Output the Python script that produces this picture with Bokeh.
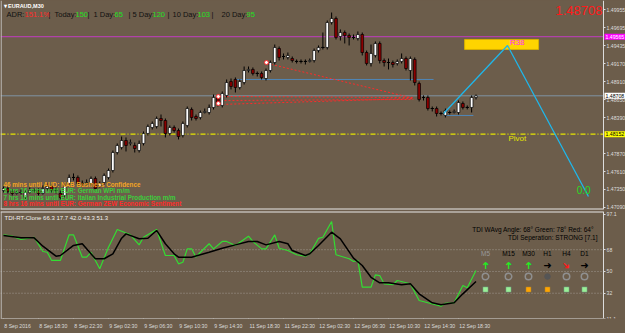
import math
from bokeh.plotting import figure
from bokeh.layouts import column
from bokeh.models import (Range1d, FixedTicker, Span, Label, ColumnDataSource,
                          PrintfTickFormatter, LinearAxis)
from bokeh.core.properties import value
from bokeh.embed import file_html
from bokeh.resources import INLINE

# ---------------- data ----------------
symbol = "EURAUD,M30"
last_price = 1.48708
r38_level = 1.49565
pivot_level = 1.48152

time_ticks = [0, 8, 16, 24, 32, 40, 48, 56, 64, 72, 80, 88, 96, 104]
time_labels = ["8 Sep 2016", "8 Sep 18:30", "8 Sep 22:30", "9 Sep 02:30", "9 Sep 06:30",
               "9 Sep 10:30", "9 Sep 14:30", "11 Sep 18:30", "11 Sep 22:30", "12 Sep 02:30",
               "12 Sep 06:30", "12 Sep 10:30", "12 Sep 14:30", "12 Sep 18:30"]
price_ticks = [1.49955, 1.49695, 1.49435, 1.49170, 1.48910, 1.48650, 1.48390,
               1.47870, 1.47610, 1.47350, 1.47090]

opens = [1.47335, 1.47364, 1.47321, 1.47292, 1.47306, 1.47234, 1.47306, 1.47335, 1.47335, 1.47292,
         1.47364, 1.47393, 1.47335, 1.47292, 1.47263, 1.47437, 1.47524, 1.47524, 1.47437, 1.47437,
         1.47437, 1.47509, 1.47393, 1.47451, 1.47524, 1.47625, 1.47886, 1.47959, 1.48060, 1.48017,
         1.47988, 1.47915, 1.48017, 1.48162, 1.48249, 1.48263, 1.48379, 1.48350, 1.48162, 1.48249,
         1.48205, 1.48133, 1.48278, 1.48510, 1.48408, 1.48394, 1.48466, 1.48466, 1.48539, 1.48684,
         1.48568, 1.48713, 1.48916, 1.48945, 1.48829, 1.48901, 1.49075, 1.49090, 1.49032, 1.49032,
         1.48959, 1.49075, 1.49191, 1.49394, 1.49278, 1.49264, 1.49249, 1.49206, 1.49206, 1.49206,
         1.49206, 1.49220, 1.49365, 1.49409, 1.49409, 1.49771, 1.49829, 1.49568, 1.49626, 1.49583,
         1.49554, 1.49539, 1.49597, 1.49336, 1.49177, 1.49293, 1.49467, 1.49220, 1.49191, 1.49191,
         1.49177, 1.49206, 1.49249, 1.49075, 1.49235, 1.48887, 1.48684, 1.48684, 1.48524, 1.48524,
         1.48452, 1.48423, 1.48466, 1.48466, 1.48466, 1.48597, 1.48539, 1.48539, 1.48684]
highs = [1.47393, 1.47393, 1.47350, 1.47335, 1.47350, 1.47335, 1.47379, 1.47364, 1.47364, 1.47408,
         1.47437, 1.47422, 1.47379, 1.47335, 1.47437, 1.47567, 1.47582, 1.47553, 1.47480, 1.47495,
         1.47538, 1.47538, 1.47466, 1.47582, 1.47654, 1.47915, 1.48017, 1.48118, 1.48104, 1.48075,
         1.48031, 1.48060, 1.48191, 1.48292, 1.48336, 1.48408, 1.48437, 1.48379, 1.48278, 1.48278,
         1.48234, 1.48336, 1.48553, 1.48539, 1.48437, 1.48495, 1.48524, 1.48582, 1.48727, 1.48713,
         1.48771, 1.48945, 1.48959, 1.48974, 1.48945, 1.49133, 1.49133, 1.49119, 1.49061, 1.49061,
         1.49104, 1.49220, 1.49452, 1.49423, 1.49322, 1.49336, 1.49278, 1.49235, 1.49235, 1.49235,
         1.49249, 1.49394, 1.49438, 1.49626, 1.49800, 1.49916, 1.49858, 1.49670, 1.49655, 1.49612,
         1.49597, 1.49641, 1.49626, 1.49365, 1.49452, 1.49496, 1.49496, 1.49249, 1.49249, 1.49220,
         1.49235, 1.49322, 1.49278, 1.49278, 1.49264, 1.48916, 1.48713, 1.48713, 1.48553, 1.48553,
         1.48481, 1.48524, 1.48495, 1.48510, 1.48640, 1.48626, 1.48568, 1.48713, 1.48727]
lows = [1.47306, 1.47292, 1.47263, 1.47277, 1.47277, 1.47205, 1.47292, 1.47306, 1.47263, 1.47277,
        1.47335, 1.47306, 1.47292, 1.47205, 1.47234, 1.47408, 1.47480, 1.47408, 1.47393, 1.47408,
        1.47408, 1.47335, 1.47379, 1.47422, 1.47495, 1.47596, 1.47857, 1.47930, 1.47901, 1.47988,
        1.47886, 1.47886, 1.47988, 1.48133, 1.48220, 1.48234, 1.48263, 1.48104, 1.48133, 1.48176,
        1.48075, 1.48104, 1.48249, 1.48350, 1.48350, 1.48365, 1.48452, 1.48437, 1.48510, 1.48553,
        1.48539, 1.48684, 1.48800, 1.48756, 1.48800, 1.48872, 1.49046, 1.49003, 1.48988, 1.48945,
        1.48930, 1.49046, 1.49162, 1.49220, 1.49235, 1.49235, 1.49191, 1.49177, 1.49177, 1.49162,
        1.49191, 1.49191, 1.49336, 1.49380, 1.49380, 1.49742, 1.49525, 1.49510, 1.49467, 1.49438,
        1.49525, 1.49510, 1.49293, 1.49148, 1.49133, 1.49264, 1.49177, 1.49133, 1.49090, 1.49119,
        1.49148, 1.49177, 1.49075, 1.48930, 1.48858, 1.48626, 1.48640, 1.48495, 1.48481, 1.48408,
        1.48423, 1.48394, 1.48437, 1.48452, 1.48437, 1.48510, 1.48510, 1.48466, 1.48655]
closes = [1.47364, 1.47321, 1.47292, 1.47306, 1.47306, 1.47306, 1.47335, 1.47335, 1.47292, 1.47364,
          1.47393, 1.47335, 1.47335, 1.47234, 1.47408, 1.47524, 1.47524, 1.47437, 1.47437, 1.47451,
          1.47509, 1.47364, 1.47437, 1.47553, 1.47625, 1.47886, 1.47988, 1.48060, 1.47988, 1.48031,
          1.47944, 1.48017, 1.48162, 1.48263, 1.48307, 1.48379, 1.48350, 1.48162, 1.48249, 1.48205,
          1.48118, 1.48307, 1.48524, 1.48394, 1.48379, 1.48466, 1.48481, 1.48539, 1.48684, 1.48597,
          1.48742, 1.48901, 1.48843, 1.48829, 1.48916, 1.49075, 1.49090, 1.49032, 1.49032, 1.48974,
          1.49075, 1.49191, 1.49409, 1.49264, 1.49278, 1.49293, 1.49220, 1.49206, 1.49206, 1.49206,
          1.49220, 1.49365, 1.49409, 1.49409, 1.49771, 1.49829, 1.49554, 1.49626, 1.49583, 1.49554,
          1.49554, 1.49597, 1.49336, 1.49177, 1.49322, 1.49467, 1.49220, 1.49191, 1.49191, 1.49162,
          1.49206, 1.49249, 1.49104, 1.49249, 1.48901, 1.48655, 1.48684, 1.48524, 1.48524, 1.48452,
          1.48452, 1.48495, 1.48466, 1.48481, 1.48611, 1.48539, 1.48539, 1.48684, 1.48708]

# TDI indicator (fast green / slow black), vertices read at bar positions
tdi_green_bars = [0, 2, 4, 7, 9, 10, 11, 13, 15, 16, 18, 19, 20, 22, 24, 26, 29, 31, 32, 35,
                  37, 39, 40, 41, 42, 43, 44, 45, 47, 48, 50, 51, 53, 56, 57, 59, 60, 62, 63, 65,
                  67, 69, 70, 72, 73, 75, 76, 79, 80, 81, 82, 84, 85, 86, 87, 89, 90, 93, 95, 97,
                  100, 101, 103, 105, 106, 108]
tdi_green = [80.3, 79.2, 76.4, 78.3, 66.5, 65.9, 59.1, 59.1, 80.3, 80.3, 61.8, 61.8, 65.9, 52.2, 70.1,
             84.7, 80.3, 72.0, 78.3, 84.7, 63.2, 63.2, 56.3, 57.6, 68.7, 68.7, 61.8, 65.9, 72.9, 68.7,
             74.8, 74.8, 71.5, 79.2, 74.8, 68.7, 68.7, 80.3, 69.2, 67.3, 63.8, 62.6, 64.6, 77.3, 78.3,
             91.3, 63.8, 60.5, 58.2, 59.1, 37.0, 37.0, 47.2, 46.6, 39.8, 39.0, 42.5, 39.8, 26.0, 24.1,
             21.3, 23.7, 24.1, 38.4, 36.5, 50.8]
tdi_black_bars = [0, 4, 7, 9, 12, 13, 16, 18, 19, 21, 23, 25, 27, 28, 31, 33, 35, 37, 39, 40,
                  43, 47, 50, 53, 56, 58, 60, 63, 65, 66, 69, 70, 72, 75, 77, 80, 82, 84, 86, 88,
                  91, 93, 95, 98, 100, 103, 105, 108]
tdi_black = [79.7, 77.8, 77.8, 70.9, 62.6, 63.2, 71.5, 72.9, 68.7, 60.5, 60.5, 64.6, 77.5, 81.1, 77.0,
             77.5, 83.9, 72.9, 64.6, 61.8, 61.8, 65.9, 69.2, 72.0, 74.8, 74.8, 72.0, 74.8, 72.9, 67.3,
             63.2, 64.6, 71.5, 82.5, 77.0, 61.0, 54.9, 45.2, 40.6, 40.6, 39.0, 39.8, 31.5, 24.1, 22.4,
             24.1, 31.5, 41.7]
tdi_levels = [68, 50, 32]
tdi_ticks = [97.1, 68, 50, 32, 11.1]
tdi_values = [66.3, 17.7, 42.0, 43.3, 51.3]

# drawing objects
zigzag_bars = [100.6, 115.2, 133.7]
zigzag_prices = [1.48452, 1.49438, 1.47248]
r38_box = dict(left=105.4, right=122.3, bottom=1.49380, top=1.49525)
trend_x0 = [50.1, 49.6, 49.1, 60.3]
trend_y0 = [1.48698, 1.48640, 1.48582, 1.49177]
trend_x1 = [93.7, 93.7, 93.7, 93.0]
trend_y1 = [1.48684, 1.48655, 1.48669, 1.48684]
fractal_bars = [49.1, 49.1, 60.1]
fractal_prices = [1.48698, 1.48597, 1.49191]
level_a = dict(price=1.48945, x0=53.0, x1=98.3)
level_b = dict(price=1.48423, x0=100.6, x1=107.4)

adr_pct = "151.1%"
adr_names = ["Today:", "1 Day:", "5 Day:", "10 Day:", "20 Day:"]
adr_vals = [150, 65, 120, 103, 95]

news = ["46 mins until AUD: NAB Business Confidence",
        "5 hrs 16 mins until EUR: German WPI m/m",
        "7 hrs 16 mins until EUR: Italian Industrial Production m/m",
        "8 hrs 16 mins until EUR: German ZEW Economic Sentiment"]
news_colors = ["#f5a623", "#3ccf3c", "#3ccf3c", "#ff2a2a"]

tf_names = ["M5", "M15", "M30", "H1", "H4", "D1"]
tf_arrow = ["up", "up", "up", "right", "downright", "right"]
tf_dot = ["open", "open", "open", "filled", "open", "open"]
tf_box = ["#98f098", "#98f098", "#ffa500", "#ffa500", "#98f098", "#98f098"]

# ---------------- style / layout ----------------
BG = "#6c5d4b"
FONT = "Liberation Sans"
AX = "#dcdcdc"
W = 625
PX_PER_BAR = 4.375
BAR0_PX = 3.0
AXIS_PX = 603
P1_H = 209
P2_TOP, P2_BOT = 211, 318
Y1_TOP, Y1_BOT = 1.50090, 1.470595
Y2_TOP, Y2_BOT = 99.58, 11.1
AXIS_FONT = 5.2
TIME_FONT = 5.2
CHAR_EM = {" ": 0.278, ":": 0.278, "S": 0.667}


def px_x(px):
    return (px - BAR0_PX) / PX_PER_BAR


def p2_y(py):
    return Y2_TOP - (py - P2_TOP) * (Y2_TOP - Y2_BOT) / (P2_BOT - P2_TOP)


def text_w(s, size):
    return sum(CHAR_EM.get(ch, 0.556) for ch in s) * size


X_START, X_END = px_x(0), px_x(W)
X_AXIS = px_x(AXIS_PX)

p1 = figure(frame_width=W, frame_height=P1_H, x_range=Range1d(X_START, X_END),
            y_range=Range1d(Y1_BOT, Y1_TOP), x_axis_location=None, y_axis_location=None,
            toolbar_location=None, output_backend="svg",
            min_border_left=0, min_border_right=0, min_border_top=0, min_border_bottom=1)
p2 = figure(frame_width=W, frame_height=P2_BOT - P2_TOP, x_range=Range1d(X_START, X_END),
            y_range=Range1d(Y2_BOT, Y2_TOP), x_axis_location=None, y_axis_location=None,
            toolbar_location=None, output_backend="svg",
            min_border_left=0, min_border_right=0, min_border_top=1, min_border_bottom=15)

for p, ticks in ((p1, price_ticks), (p2, tdi_ticks)):
    p.background_fill_color = BG
    p.border_fill_color = BG
    p.outline_line_color = None
    p.grid.visible = False
    ax = LinearAxis(fixed_location=X_AXIS, ticker=FixedTicker(ticks=ticks))
    ax.axis_line_color = AX
    ax.major_tick_line_color = AX
    ax.minor_tick_line_color = None
    ax.major_tick_in = 0
    ax.major_tick_out = 2
    ax.major_label_standoff = 1
    ax.major_label_text_font = FONT
    ax.major_label_text_font_size = "%.1fpx" % AXIS_FONT
    ax.major_label_text_color = AX
    p.add_layout(ax, "right")
    if p is p1:
        ax.formatter = PrintfTickFormatter(format="%.5f")
    else:
        ax.major_label_overrides = {t: ("%g" % t) for t in tdi_ticks}
    p.add_layout(Span(location=px_x(0.6), dimension="height", line_color="#cfcfcf",
                      line_width=1))

# time axis: tick marks at the bar positions, labels starting at each tick
label_pos = [round(t + (text_w(l, TIME_FONT) / 2 + 0.8) / PX_PER_BAR, 4)
             for t, l in zip(time_ticks, time_labels)]
xa = LinearAxis(ticker=FixedTicker(ticks=label_pos))
xa.major_label_overrides = {pos: l for pos, l in zip(label_pos, time_labels)}
xa.axis_line_color = None
xa.major_tick_line_color = None
xa.minor_tick_line_color = None
xa.major_tick_in = 0
xa.major_tick_out = 0
xa.major_label_standoff = 4
xa.major_label_text_font = FONT
xa.major_label_text_font_size = "%.1fpx" % TIME_FONT
xa.major_label_text_color = AX
p2.add_layout(xa, "below")

xt = LinearAxis(fixed_location=Y2_BOT, ticker=FixedTicker(ticks=time_ticks))
xt.bounds = (X_START, X_AXIS)
xt.axis_line_color = AX
xt.major_tick_line_color = AX
xt.minor_tick_line_color = None
xt.major_tick_in = 0
xt.major_tick_out = 3
xt.major_label_text_font_size = "0px"
xt.major_label_text_alpha = 0
p2.add_layout(xt, "below")


def lab(fig, bottom, x, y, text, size="6px", color="white", align="left",
        style="normal", font=FONT, angle=0.0, **kw):
    fig.add_layout(Label(x=x, y=bottom - y, x_units="screen", y_units="screen",
                         text=text, text_font=font, text_font_size=size, text_color=color,
                         text_align=align, text_baseline="middle", text_font_style=style,
                         angle=angle, **kw))


def hline(fig, yv, color, width=1.0, dash="solid"):
    fig.segment(x0=[X_START], x1=[X_AXIS], y0=[yv], y1=[yv], line_color=color,
                line_width=width, line_dash=dash)


# ---------------- main panel ----------------
hline(p1, Y1_BOT, "#e8e8e8", 2)
hline(p1, r38_level, "#c23cc2")
hline(p1, last_price, "#7f93a3")
hline(p1, pivot_level, "#e6e600", 1.2, "5 2 1 2")
p1.segment(x0=[level_a["x0"]], x1=[level_a["x1"]], y0=[level_a["price"]], y1=[level_a["price"]],
           line_color="#4f86b8", line_width=1)
p1.segment(x0=[level_b["x0"]], x1=[level_b["x1"]], y0=[level_b["price"]], y1=[level_b["price"]],
           line_color="#4f86b8", line_width=1)

p1.segment(x0=trend_x0, y0=trend_y0, x1=trend_x1, y1=trend_y1, line_color="#ff2a2a",
           line_width=1, line_dash="2 2")

bars = list(range(len(opens)))
src = ColumnDataSource(dict(
    x=bars, high=highs, low=lows,
    top=[max(o, c) for o, c in zip(opens, closes)],
    bottom=[min(o, c) for o, c in zip(opens, closes)],
    fill=["#ffffff" if c > o else "#8b0000" for o, c in zip(opens, closes)],
))
p1.segment(x0="x", y0="high", x1="x", y1="low", source=src, line_color="black", line_width=1)
p1.vbar(x="x", width=0.62, top="top", bottom="bottom", fill_color="fill", line_color="black",
        line_width=0.7, source=src)
doji = [i for i in bars if opens[i] == closes[i]]
p1.segment(x0=[i - 0.35 for i in doji], x1=[i + 0.35 for i in doji],
           y0=[opens[i] for i in doji], y1=[opens[i] for i in doji],
           line_color="black", line_width=1)

p1.scatter(x=fractal_bars, y=fractal_prices, size=4, fill_color="white", line_color="#ff2a2a",
           line_width=1)

p1.quad(left=[r38_box["left"]], right=[r38_box["right"]], bottom=[r38_box["bottom"]],
        top=[r38_box["top"]], fill_color="#ffd400", line_color="#d9b000", line_width=1)
p1.line(x=zigzag_bars, y=zigzag_prices, line_color="#1fb6ea", line_width=1.3)
p1.text(x=[115.7], y=[1.49481], text=["R38"], text_font=value(FONT), text_font_size="8px",
        text_color="#ff2dff", text_baseline="middle", text_align="left")
p1.text(x=[115.4], y=[1.48089], text=["Pivot"], text_font=value(FONT), text_font_size="8px",
        text_color="#e6e600", text_baseline="middle", text_align="left")
p1.text(x=[131.0], y=[1.47342], text=["0.0"], text_font=value(FONT), text_font_size="10px",
        text_color="#22dd22", text_baseline="middle", text_align="left")

# axis boxes
for price, bg, fg in [(r38_level, "#ff00ff", "#ffffff"), (last_price, "#ffffff", "#000000"),
                      (pivot_level, "#ffff00", "#000000")]:
    p1.add_layout(Label(x=AXIS_PX + 1, y=price, x_units="screen", y_units="data",
                        text="%.5f" % price, text_font=FONT,
                        text_font_size="%.1fpx" % AXIS_FONT,
                        text_color=fg, text_baseline="middle", text_align="left",
                        background_fill_color=bg, padding=1))

# header texts
lab(p1, P1_H, 3, 5, "\u25be " + symbol, size="5.5px", color="#ffffff", style="bold")
lab(p1, P1_H, 6, 14, "ADR:", size="7.5px", color="#111111")
lab(p1, P1_H, 24, 14, adr_pct, size="7.5px", color="#ff2a2a")
name_x = [54, 93, 132, 172, 221]
bar_x = [48, 87, 128, 167, 211]
val_x = [75, 114, 152, 197, 246]
for nx, bx, vx, nm, v in zip(name_x, bar_x, val_x, adr_names, adr_vals):
    lab(p1, P1_H, bx, 14, "|", size="7.5px", color="#111111")
    lab(p1, P1_H, nx, 14, nm, size="7.5px", color="#111111")
    lab(p1, P1_H, vx, 14, str(v), size="7.5px", color="#22e022")
lab(p1, P1_H, 602, 10, "%.5f" % last_price, size="13px", color="#ff1a1a", align="right")

for k, (t, c) in enumerate(zip(news, news_colors)):
    lab(p1, P1_H, 3, 184 + k * 6.4, t, size="6.3px", color=c, style="bold")

# ---------------- TDI panel ----------------
hline(p2, Y2_TOP, "#e8e8e8", 2)
for lv in tdi_levels:
    hline(p2, lv, "#a09a90", 1, "1 2")
p2.line(x=tdi_green_bars, y=tdi_green, line_color="#33dd33", line_width=1.2)
p2.line(x=tdi_black_bars, y=tdi_black, line_color="#000000", line_width=1.5)

lab(p2, P2_BOT, 4, 217, "TDI-RT-Clone " + " ".join("%.1f" % v for v in tdi_values),
    size="6px", color="#f0f0f0")
lab(p2, P2_BOT, 597, 229, "TDI WAvg Angle: 68\u00b0  Green: 78\u00b0  Red: 64\u00b0",
    size="6.5px", color="#000000", align="right")
lab(p2, P2_BOT, 597, 237, "TDI Seperation: STRONG [7.1]", size="6.5px", color="#000000",
    align="right")

tf_x = [485, 508, 528, 547, 566, 584]
arrow_style = {"up": ("#22ee22", math.pi / 2), "right": ("#000000", 0.0),
               "downright": ("#ff1a1a", -math.pi / 4)}
for x, nm, ar in zip(tf_x, tf_names, tf_arrow):
    lab(p2, P2_BOT, x, 253, nm, size="6.5px", color="#9a9a9a" if nm == "M5" else "#000000",
        align="center")
    col, ang = arrow_style[ar]
    lab(p2, P2_BOT, x, 265, "\u279c", size="10px", color=col, align="center",
        font="DejaVu Sans", style="bold", angle=ang)

open_x = [px_x(x) for x, d in zip(tf_x, tf_dot) if d == "open"]
fill_x = [px_x(x) for x, d in zip(tf_x, tf_dot) if d == "filled"]
p2.scatter(x=open_x, y=[p2_y(276)] * len(open_x), marker="circle", size=6.5,
           fill_color=None, line_color="#8f8f8f", line_width=1.5)
p2.scatter(x=fill_x, y=[p2_y(276)] * len(fill_x), marker="circle", size=5.5,
           fill_color="#555555", line_color="#555555")
p2.scatter(x=[px_x(x) for x in tf_x], y=[p2_y(289)] * len(tf_x), marker="square", size=5.5,
           fill_color=tf_box, line_color="#5a5a5a", line_width=0.5)

layout = column(p1, p2, spacing=0)
layout.styles = {"background-color": BG}
open("out.html", "w").write(file_html(layout, INLINE))
